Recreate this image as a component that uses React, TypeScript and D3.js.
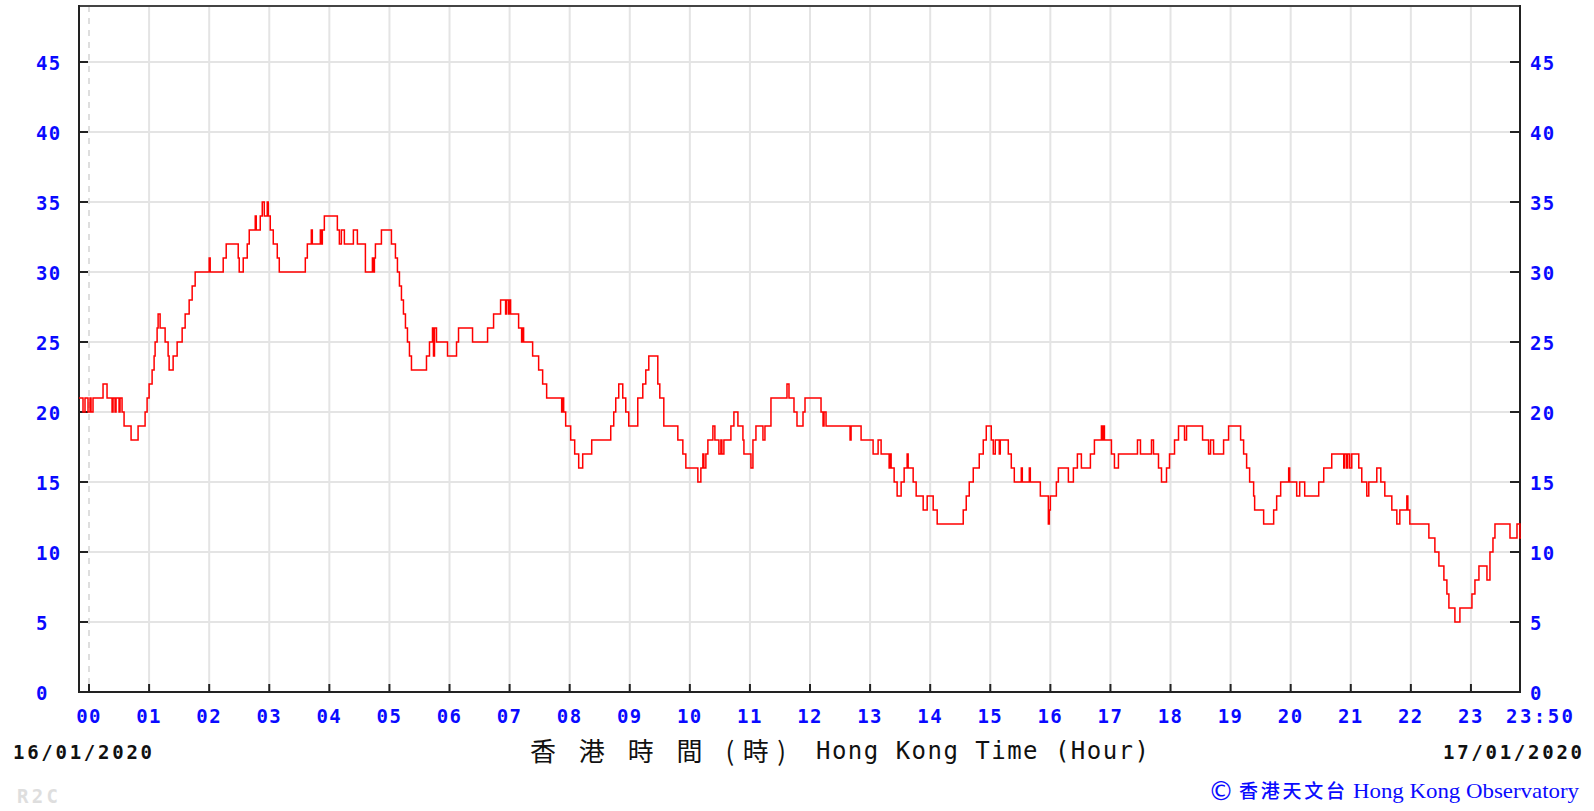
import React from "react";
import * as d3 from "d3";

// Minutes after 00:00 (16/01/2020) where the 1-minute wind speed changes, and the new value
const changeMinutes = [
  -10, -6, -4, -1, 1, 2, 4, 14, 18, 23, 24, 26, 27, 30, 31, 33, 35, 42, 49, 56, 58, 60, 63, 65, 66, 68, 69, 71, 76, 79,
  80, 84, 88, 93, 96, 100, 103, 106, 120, 121, 134, 137, 149, 150, 154, 158, 160, 166, 167, 171, 173, 175, 178, 179, 181, 184, 188, 190,
  216, 218, 222, 223, 231, 232, 233, 235, 248, 250, 252, 255, 264, 268, 276, 283, 284, 285, 286, 292, 302, 306, 308, 310, 312, 314, 316, 318,
  320, 322, 337, 340, 343, 344, 345, 347, 358, 367, 369, 383, 398, 404, 411, 416, 417, 419, 420, 421, 429, 432, 433, 434, 443, 449, 453, 457,
  472, 473, 474, 476, 481, 485, 489, 493, 502, 521, 524, 526, 529, 533, 536, 539, 548, 553, 556, 559, 568, 570, 574, 588, 593, 596, 608, 611,
  613, 614, 616, 618, 623, 625, 629, 631, 632, 634, 641, 644, 648, 653, 654, 661, 663, 666, 673, 675, 681, 697, 699, 704, 707, 713, 715, 731,
  733, 734, 736, 760, 761, 771, 783, 788, 791, 799, 800, 801, 804, 807, 811, 814, 817, 818, 823, 826, 833, 837, 843, 847, 873, 876, 879, 883,
  889, 893, 896, 901, 903, 905, 909, 910, 918, 921, 924, 931, 932, 939, 940, 950, 958, 959, 960, 966, 968, 978, 983, 987, 991, 1000, 1004, 1011,
  1012, 1013, 1014, 1021, 1024, 1028, 1047, 1050, 1061, 1063, 1068, 1071, 1076, 1079, 1084, 1088, 1094, 1096, 1112, 1118, 1120, 1123, 1133, 1138,
  1150, 1153, 1156, 1159, 1163, 1164, 1173, 1183, 1186, 1190, 1198, 1199, 1206, 1209, 1214, 1228, 1233, 1241, 1253, 1254, 1256, 1257, 1259, 1261,
  1268, 1271, 1276, 1278, 1286, 1290, 1294, 1301, 1306, 1309, 1316, 1317, 1319, 1338, 1344, 1348, 1353, 1356, 1358, 1364, 1369, 1381, 1384, 1388,
  1396, 1399, 1402, 1404, 1419, 1426, 1429,
];
const windSpeeds = [
  21, 20, 21, 20, 21, 20, 21, 22, 21, 20, 21, 20, 21, 20, 21, 20, 19, 18, 19, 20, 21, 22, 23, 24, 25, 26, 27, 26, 25, 24,
  23, 24, 25, 26, 27, 28, 29, 30, 31, 30, 31, 32, 31, 30, 31, 32, 33, 34, 33, 34, 35, 34, 35, 34, 33, 32, 31, 30,
  31, 32, 33, 32, 33, 32, 33, 34, 33, 32, 33, 32, 33, 32, 30, 31, 30, 31, 32, 33, 32, 31, 30, 29, 28, 27, 26, 25,
  24, 23, 24, 25, 26, 24, 26, 25, 24, 25, 26, 25, 26, 27, 28, 27, 28, 27, 28, 27, 26, 25, 26, 25, 24, 23, 22, 21,
  20, 21, 20, 19, 18, 17, 16, 17, 18, 19, 20, 21, 22, 21, 20, 19, 21, 22, 23, 24, 22, 21, 19, 18, 17, 16, 15, 16,
  17, 16, 17, 18, 19, 18, 17, 18, 17, 18, 19, 20, 19, 18, 17, 16, 18, 19, 18, 19, 21, 22, 21, 20, 19, 20, 21, 20,
  19, 20, 19, 18, 19, 18, 17, 18, 17, 16, 17, 16, 15, 14, 15, 16, 17, 16, 15, 14, 13, 14, 13, 12, 13, 14, 15, 16,
  17, 18, 19, 18, 17, 18, 17, 18, 17, 16, 15, 16, 15, 16, 15, 14, 12, 13, 14, 15, 16, 15, 16, 17, 16, 17, 18, 19,
  18, 19, 18, 17, 16, 17, 18, 17, 18, 17, 16, 15, 16, 17, 18, 19, 18, 19, 18, 17, 18, 17, 18, 19,
  18, 17, 16, 15, 14, 13, 12, 13, 14, 15, 16, 15, 14, 15, 14, 15, 16, 17, 16, 17, 16, 17, 16, 17,
  16, 15, 14, 15, 16, 15, 14, 13, 12, 13, 14, 13, 12, 11, 10, 9, 8, 7, 6, 5, 6, 7, 8, 9,
  8, 10, 11, 12, 11, 12, 11,
];
const endMinute = 1430;

const hourLabels = ["00", "01", "02", "03", "04", "05", "06", "07", "08", "09", "10", "11", "12", "13", "14", "15", "16", "17", "18", "19", "20", "21", "22", "23"];
const endLabel = "23:50";
const yTicks = [0, 5, 10, 15, 20, 25, 30, 35, 40, 45];
const startDate = "16/01/2020";
const endDate = "17/01/2020";
const titleZh = "香 港 時 間 (時)";
const titleEn = "Hong Kong Time (Hour)";
const creditZh = "香港天文台";
const creditEn = "Hong Kong Observatory";

const L = 79, R = 1521, T = 6, B = 692;
const BLUE = "#0a0aff";
const MONO = "'DejaVu Sans Mono', 'Liberation Mono', monospace";

export default function App() {
  const x = d3.scaleLinear().domain([-10, 1430]).range([L, R]);
  const y = d3.scaleLinear().domain([0, 49]).range([B, T]);

  const pts: [number, number][] = changeMinutes.map((m, i) => [m, windSpeeds[i]]);
  pts.push([endMinute, windSpeeds[windSpeeds.length - 1]]);
  const line = d3
    .line<[number, number]>()
    .x((d) => x(d[0]))
    .y((d) => y(d[1]))
    .curve(d3.curveStepAfter);

  return (
    <svg
      width={1594}
      height={811}
      style={{ position: "absolute", left: 0, top: 0, display: "block", background: "#fff" }}
    >
      {/* horizontal grid */}
      {yTicks.filter((v) => v > 0).map((v) => (
        <line key={"hg" + v} x1={L} x2={R - 1} y1={y(v)} y2={y(v)} stroke="#e4e4e4" strokeWidth={2} />
      ))}
      {/* vertical grid */}
      {hourLabels.map((_, h) =>
        h === 0 ? (
          <line key="vg0" x1={x(0)} x2={x(0)} y1={T} y2={B} stroke="#dedede" strokeWidth={2} strokeDasharray="6,6" />
        ) : (
          <line key={"vg" + h} x1={x(h * 60)} x2={x(h * 60)} y1={T} y2={B} stroke="#e4e4e4" strokeWidth={2} />
        )
      )}
      {/* ticks */}
      {hourLabels.map((_, h) => (
        <line key={"bt" + h} x1={x(h * 60)} x2={x(h * 60)} y1={B} y2={B - 8} stroke="#222" strokeWidth={2} />
      ))}
      {yTicks.filter((v) => v > 0).map((v) => (
        <g key={"yt" + v}>
          <line x1={L} x2={L + 9} y1={y(v)} y2={y(v)} stroke="#222" strokeWidth={2} />
          <line x1={R - 1} x2={R - 11} y1={y(v)} y2={y(v)} stroke="#222" strokeWidth={2} />
        </g>
      ))}
      {/* frame */}
      <line x1={L} x2={R} y1={T} y2={T} stroke="#444" strokeWidth={2} />
      <line x1={L} x2={L} y1={T - 1} y2={B + 1} stroke="#222" strokeWidth={2} />
      <line x1={R - 1} x2={R - 1} y1={T - 1} y2={B + 1} stroke="#222" strokeWidth={2} />
      <line x1={L - 1} x2={R} y1={B} y2={B} stroke="#222" strokeWidth={2} />

      {/* data */}
      <path d={line(pts) || ""} fill="none" stroke="#ff0000" strokeWidth={1.5} />

      {/* y labels */}
      {yTicks.map((v) => (
        <g key={"yl" + v} fontFamily={MONO} fontWeight="bold" fontSize={19} fill={BLUE} letterSpacing={1.4}>
          <text x={36} y={y(v) + 2} dominantBaseline="middle">{String(v)}</text>
          <text x={1530} y={y(v) + 2} dominantBaseline="middle">{String(v)}</text>
        </g>
      ))}
      {/* x labels */}
      {hourLabels.map((lab, h) => (
        <text key={"xl" + h} x={x(h * 60)} y={717} textAnchor="middle" dominantBaseline="middle"
          fontFamily={MONO} fontWeight="bold" fontSize={19} fill={BLUE} letterSpacing={1.4}>
          {lab}
        </text>
      ))}
      <text x={1506} y={717} dominantBaseline="middle" fontFamily={MONO} fontWeight="bold" fontSize={19}
        fill={BLUE} textLength={67} lengthAdjust="spacing">{endLabel}</text>

      {/* dates */}
      <text x={13} y={753} dominantBaseline="middle" fontFamily={MONO} fontWeight="bold" fontSize={19}
        fill="#111" textLength={139} lengthAdjust="spacing">{startDate}</text>
      <text x={1443} y={753} dominantBaseline="middle" fontFamily={MONO} fontWeight="bold" fontSize={19}
        fill="#111" textLength={139} lengthAdjust="spacing">{endDate}</text>

      {/* axis title */}
      <text x={530} y={754} dominantBaseline="middle" fontFamily="'Noto Sans CJK TC', sans-serif" fontWeight={400}
        fontSize={26} fill="#111" textLength={256} lengthAdjust="spacing">{titleZh}</text>
      <text x={816} y={752} dominantBaseline="middle" fontFamily={MONO} fontSize={24}
        fill="#111" textLength={333} lengthAdjust="spacing">{titleEn}</text>

      {/* credits */}
      <text x={17} y={803} fontFamily={MONO} fontWeight="bold" fontSize={19} fill="#dedede"
        textLength={41} lengthAdjust="spacing">R2C</text>
      <text x={1208} y={800} fontFamily="'DejaVu Sans', sans-serif" fontSize={26} fill={BLUE}>©</text>
      <text x={1239} y={798} fontFamily="'Noto Sans CJK TC', sans-serif" fontSize={19} fontWeight={500} fill={BLUE}
        textLength={106} lengthAdjust="spacing">{creditZh}</text>
      <text x={1353} y={798} fontFamily="'Liberation Serif', serif" fontSize={21} fill={BLUE}
        textLength={226} lengthAdjust="spacingAndGlyphs">{creditEn}</text>
    </svg>
  );
}
